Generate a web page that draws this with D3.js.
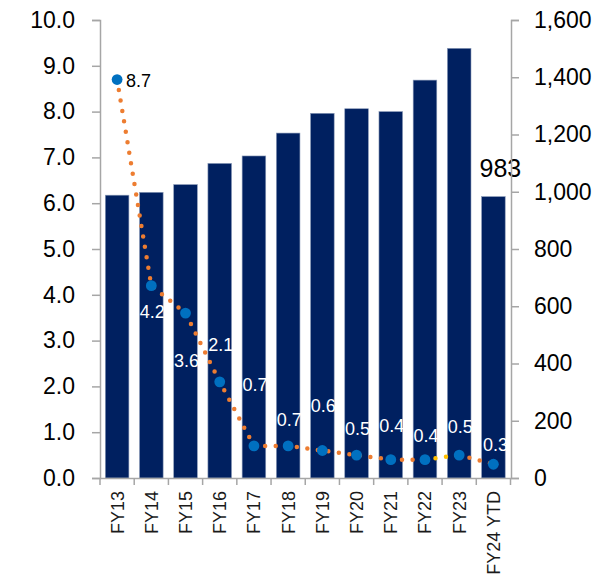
<!DOCTYPE html>
<html>
<head>
<meta charset="utf-8">
<script src="https://cdn.jsdelivr.net/npm/d3@7"></script>
<style>
  body { margin: 0; background: #fff; }
  text { font-family: "Liberation Sans", Arial, sans-serif; }
</style>
</head>
<body>
<svg id="chart" width="616" height="578"></svg>
<script>
var categories = ["FY13", "FY14", "FY15", "FY16", "FY17", "FY18", "FY19", "FY20", "FY21", "FY22", "FY23", "FY24 YTD"];
var barValues = [988, 998, 1025, 1099, 1125, 1205, 1274, 1290, 1280, 1390, 1501, 983];
var lineValues = [8.7, 4.2, 3.6, 2.1, 0.7, 0.7, 0.6, 0.5, 0.4, 0.4, 0.5, 0.3];
var leftTicks = [0, 1, 2, 3, 4, 5, 6, 7, 8, 9, 10];
var rightTicks = [0, 200, 400, 600, 800, 1000, 1200, 1400, 1600];

var svg = d3.select("#chart");

var x = d3.scaleBand().domain(categories).range([100, 510.5]).paddingInner(0.31).paddingOuter(0.155);
var yL = d3.scaleLinear().domain([0, 10]).range([478, 20]);
var yR = d3.scaleLinear().domain([0, 1600]).range([478, 20]);

// bars (right axis)
svg.selectAll(".bar").data(barValues).enter()
  .append("rect")
  .attr("class", "bar")
  .attr("x", function(d, i) { return x(categories[i]); })
  .attr("width", x.bandwidth())
  .attr("y", function(d) { return yR(d); })
  .attr("height", function(d) { return yR(0) - yR(d); })
  .style("fill", "#002060")
  .style("stroke", "#8a9ab8")
  .style("stroke-width", 0.6);

// label only on last bar
svg.append("text")
  .attr("x", x(categories[11]) + x.bandwidth() / 2 + 7)
  .attr("y", yR(barValues[11]) - 20)
  .attr("text-anchor", "middle")
  .style("font-size", "25px")
  .style("fill", "#000")
  .text(d3.format(",")(barValues[11]));

// axes
var leftAxis = svg.append("g")
  .attr("transform", "translate(100,0)")
  .call(d3.axisLeft(yL).tickValues(leftTicks).tickFormat(d3.format(".1f")).tickSizeOuter(0).tickSize(8).tickPadding(17));

var rightAxis = svg.append("g")
  .attr("transform", "translate(511,0)")
  .call(d3.axisRight(yR).tickValues(rightTicks).tickFormat(d3.format(",")).tickSizeOuter(0).tickSize(8).tickPadding(15));

[leftAxis, rightAxis].forEach(function(g) {
  g.select(".domain").style("stroke", "#a6a6a6").style("stroke-width", 1.5);
  g.selectAll(".tick line").style("stroke", "#a6a6a6").style("stroke-width", 1.5);
  g.selectAll(".tick text").style("font-size", "23px").style("fill", "#000")
    .style("font-family", "'Liberation Sans', Arial, sans-serif");
});

// x axis: baseline + ticks at band boundaries
svg.append("line")
  .attr("x1", 100).attr("x2", 511)
  .attr("y1", 478.5).attr("y2", 478.5)
  .style("stroke", "#a6a6a6").style("stroke-width", 1.5);

var step = x.step();
var bounds = d3.range(categories.length + 1).map(function(i) { return 100 + i * step; });
svg.selectAll(".xtick").data(bounds).enter()
  .append("line")
  .attr("x1", function(d) { return d; }).attr("x2", function(d) { return d; })
  .attr("y1", 478).attr("y2", 485)
  .style("stroke", "#a6a6a6").style("stroke-width", 1.5);

svg.selectAll(".xlabel").data(categories).enter()
  .append("text")
  .attr("transform", function(d) { return "translate(" + (x(d) + x.bandwidth() / 2) + ",491) rotate(-90)"; })
  .attr("text-anchor", "end")
  .attr("dy", "0.36em")
  .style("font-size", "18px")
  .style("fill", "#1a1a1a")
  .text(function(d) { return d; });

// dotted line (left axis), FY22-FY23 segment in yellow
var cx = function(i) { return x(categories[i]) + x.bandwidth() / 2; };
var seg = d3.line().x(function(d) { return cx(d); }).y(function(d) { return yL(lineValues[d]); });
var segments = [
  { idx: d3.range(0, 10), color: "#ed7d31" },
  { idx: [9, 10], color: "#ffc000" },
  { idx: [10, 11], color: "#ed7d31" }
];
segments.forEach(function(s) {
  svg.append("path")
    .attr("d", seg(s.idx))
    .style("fill", "none")
    .style("stroke", s.color)
    .style("stroke-width", 4.5)
    .style("stroke-linecap", "round")
    .style("stroke-dasharray", "0 10.6");
});

svg.selectAll(".dot").data(lineValues).enter()
  .append("circle")
  .attr("cx", function(d, i) { return cx(i); })
  .attr("cy", function(d) { return yL(d); })
  .attr("r", 5.4)
  .style("fill", "#0070c0");

// value labels: first one black to the right, others white, nudged like the original
var labelDy = [0, 32, 54, -31, -55, -20, -39, -20, -28, -18, -22, -13];
svg.selectAll(".vlabel").data(lineValues).enter()
  .append("text")
  .attr("x", function(d, i) { return i == 0 ? cx(i) + 9 : cx(i) + (i == 11 ? 2 : 1); })
  .attr("y", function(d, i) { return i == 0 ? yL(d) + 7 : yL(d) + labelDy[i]; })
  .attr("text-anchor", function(d, i) { return i == 0 ? "start" : "middle"; })
  .style("font-size", "18px")
  .style("fill", function(d, i) { return i == 0 ? "#000" : "#fff"; })
  .text(function(d) { return d3.format(".1f")(d); });
</script>
</body>
</html>
